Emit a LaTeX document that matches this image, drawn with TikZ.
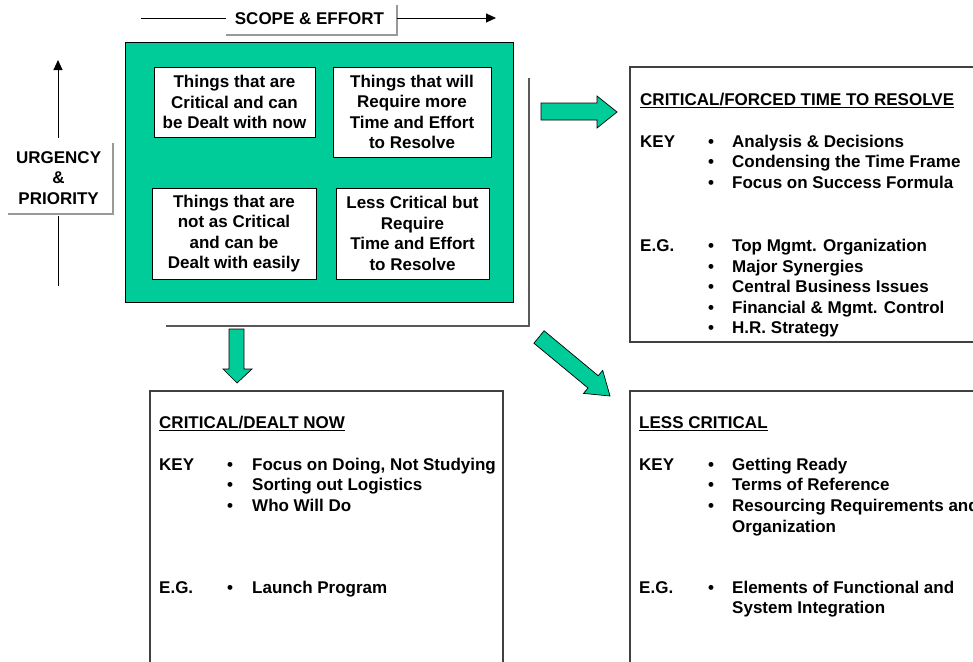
\documentclass[tikz,border=0pt]{standalone}
\usepackage{fontspec}
\setmainfont{Liberation Sans}
\usetikzlibrary{arrows.meta}
\definecolor{qgreen}{HTML}{00CC99}
\begin{document}
\begin{tikzpicture}[x=1pt,y=-1pt,
  every node/.style={font=\fontsize{17}{20.5}\selectfont\bfseries, inner sep=0pt},
  txt/.style={anchor=base west},
  inbox/.style={draw=black, fill=white, line width=0.9pt, align=center},
  resbox/.style={draw=black!75, line width=1.2pt},
  blockarrow/.style={draw=black, fill=qgreen, line width=0.7pt, line join=miter},
  axisline/.style={line width=0.9pt, -{Triangle[length=10pt,width=9pt]}},
  plainline/.style={line width=0.9pt},
  shadowline/.style={draw=black!40, line width=1.5pt},
  bracketline/.style={draw=black!65, line width=1.2pt},
  ulinestyle/.style={line width=1.2pt}]
\useasboundingbox (0,0) rectangle (973,661);
\clip (0,0) rectangle (973,661);
\fill[white] (0,0) rectangle (973,661);

% ---- scope & effort
\node (scopebox) [minimum width=171pt, minimum height=30pt] at (311.5,20) {};
\node (scope) at (309.5,19) {SCOPE \& EFFORT};
\draw[shadowline] (scopebox.south west) -- (scopebox.south east) -- (scopebox.north east);
\coordinate (sL) at (141,18);
\coordinate (sR) at (496,18);
\draw[plainline] (sL) -- (sL -| scopebox.west);
\draw[axisline] (scopebox.east |- sR) -- (sR);

% ---- urgency & priority
\node (ubox) [minimum width=105pt, minimum height=71pt] at (60.5,178.5) {};
\node (utext) [align=center] at (58.6,178) {URGENCY\\\&\\PRIORITY};
\draw[shadowline] (ubox.south west) -- (ubox.south east) -- (ubox.north east);
\coordinate (uTop) at (58,60);
\coordinate (uBot) at (58,286);
\draw[axisline] (58,138) -- (uTop);
\draw[plainline] (58,216) -- (uBot);

% ---- green matrix
\node (grid) [draw=black, fill=qgreen, line width=0.9pt, minimum width=388pt, minimum height=260pt] at (319,172) {};
\node (q1) [inbox, minimum width=161pt, minimum height=70pt] at (234.5,102) {Things that are\\Critical and can\\be Dealt with now};
\node (q2) [inbox, minimum width=158pt, minimum height=90pt] at (412,112) {Things that will\\Require more\\Time and Effort\\to Resolve};
\node (q3) [inbox, minimum width=164pt, minimum height=91pt] at (234,233.5) {Things that are\\not as Critical\\and can be\\Dealt with easily};
\node (q4) [inbox, minimum width=153pt, minimum height=91pt] at (412.5,233.5) {Less Critical but\\Require\\Time and Effort\\to Resolve};

\draw[bracketline] (166,326) -- (529,326) -- (529,78);

% ---- result boxes
\node (rtop) [resbox, minimum width=370pt, minimum height=275pt] at (815,204.5) {};
\node (rll) [resbox, minimum width=353pt, minimum height=309pt] at (326.5,545.5) {};
\node (rlr) [resbox, minimum width=370pt, minimum height=309pt] at (815,545.5) {};

% ---- block arrows
\draw[blockarrow] (229,329) -- (244,329) -- (244,369) -- (252,369) -- (237,383) -- (223,369) -- (229,369) -- cycle;
\draw[blockarrow] (541,103) -- (597,103) -- (597,96) -- (617,112) -- (597,128) -- (597,120) -- (541,120) -- cycle;
\draw[blockarrow] (533.9,343.2) -- (544.1,330.8) -- (598.2,375.7) -- (602.7,370.4) -- (610,396) -- (583.5,393.4) -- (588.0,388.0) -- cycle;

% ---- top right box text
\node[txt] (h1) at (640,105) {CRITICAL/FORCED TIME TO RESOLVE};
\draw[ulinestyle] ([yshift=-2.5pt]h1.base west) -- ([yshift=-2.5pt]h1.base east);
\node[txt] (k1) at (640,147) {KEY};
\foreach \t [count=\i] in {Analysis \& Decisions, Condensing the Time Frame, Focus on Success Formula}
  {\node[txt] (k1b\i) at (708,{147+20.5*(\i-1)}) {•};
   \node[txt] (k1t\i) at (732,{147+20.5*(\i-1)}) {\t};}
\node[txt] (e1) at (640,251.5) {E.G.};
\foreach \t [count=\i] in {Top Mgmt. Organization, Major Synergies, Central Business Issues, Financial \& Mgmt. Control, H.R. Strategy}
  {\node[txt] (e1b\i) at (708,{251.5+20.5*(\i-1)}) {•};
   \node[txt] (e1t\i) at (732,{251.5+20.5*(\i-1)}) {\t};}

% ---- lower left box text
\node[txt] (h2) at (159,428) {CRITICAL/DEALT NOW};
\draw[ulinestyle] ([yshift=-2.5pt]h2.base west) -- ([yshift=-2.5pt]h2.base east);
\node[txt] (k2) at (159,470) {KEY};
\foreach \t [count=\i] in {{Focus on Doing, Not Studying}, Sorting out Logistics, Who Will Do}
  {\node[txt] (k2b\i) at (227,{470+20.7*(\i-1)}) {•};
   \node[txt] (k2t\i) at (252,{470+20.7*(\i-1)}) {\t};}
\node[txt] (e2) at (159,593) {E.G.};
\node[txt] (e2b1) at (227,593) {•};
\node[txt] (e2t1) at (252,593) {Launch Program};

% ---- lower right box text
\node[txt] (h3) at (639,428) {LESS CRITICAL};
\draw[ulinestyle] ([yshift=-2.5pt]h3.base west) -- ([yshift=-2.5pt]h3.base east);
\node[txt] (k3) at (639,470) {KEY};
\foreach \t [count=\i] in {Getting Ready, Terms of Reference, Resourcing Requirements and}
  {\node[txt] (k3b\i) at (708,{470+20.7*(\i-1)}) {•};
   \node[txt] (k3t\i) at (732,{470+20.7*(\i-1)}) {\t};}
\node[txt] (k3t4) at (732,532) {Organization};
\node[txt] (e3) at (639,593) {E.G.};
\node[txt] (e3b1) at (708,593) {•};
\node[txt] (e3t1) at (732,593) {Elements of Functional and};
\node[txt] (e3t2) at (732,613.5) {System Integration};
\end{tikzpicture}
\end{document}
